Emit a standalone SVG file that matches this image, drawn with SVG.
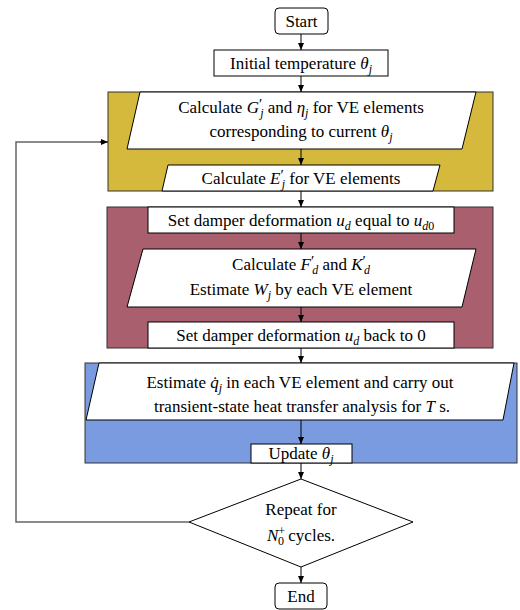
<svg xmlns="http://www.w3.org/2000/svg" width="520" height="610" viewBox="0 0 520 610">
<defs>
<style>
.t{font-family:"Liberation Serif","Times New Roman",serif;font-size:17px;fill:#000;text-anchor:middle}
.i{font-style:italic}
.s{font-size:12px}
.p{font-size:15px}
.box{fill:#fff;stroke:#000;stroke-width:1}
.reg{stroke:#333;stroke-width:1}
.ln{stroke:#000;stroke-width:1;fill:none}
.loop{stroke:#666;stroke-width:1.5;fill:none}
</style>
<marker id="ah" markerUnits="userSpaceOnUse" markerWidth="7" markerHeight="6" refX="7" refY="3" orient="auto">
<path d="M0,0 L7,3 L0,6 z" fill="#000"/>
</marker>
</defs>
<rect width="520" height="610" fill="#fff"/>

<g id="region-gold"><rect class="reg" x="108" y="92" width="385" height="99" fill="#D4B93C"/></g>
<g id="region-red"><rect class="reg" x="107" y="207" width="386" height="141" fill="#AA5F6E"/></g>
<g id="region-blue"><rect class="reg" x="85" y="363" width="432" height="100" fill="#7B9BE0"/></g>

<g id="connectors">
<line class="ln" x1="301" y1="34" x2="301" y2="50" marker-end="url(#ah)"/>
<line class="ln" x1="301" y1="76" x2="301" y2="92" marker-end="url(#ah)"/>
<line class="ln" x1="301" y1="149" x2="301" y2="165" marker-end="url(#ah)"/>
<line class="ln" x1="301" y1="191" x2="301" y2="207" marker-end="url(#ah)"/>
<line class="ln" x1="301" y1="233" x2="301" y2="249" marker-end="url(#ah)"/>
<line class="ln" x1="301" y1="307" x2="301" y2="322" marker-end="url(#ah)"/>
<line class="ln" x1="301" y1="348" x2="301" y2="363" marker-end="url(#ah)"/>
<line class="ln" x1="301" y1="420" x2="301" y2="444" marker-end="url(#ah)"/>
<line class="ln" x1="301" y1="463" x2="301" y2="479" marker-end="url(#ah)"/>
<line class="ln" x1="301" y1="567" x2="301" y2="583" marker-end="url(#ah)"/>
<polyline class="loop" points="189,522 16,522 16,142 101,142"/>
<line class="ln" x1="100" y1="142" x2="108" y2="142" marker-end="url(#ah)"/>
</g>

<g id="start">
<rect class="box" x="275" y="8" width="53" height="26" rx="4"/>
<text class="t" x="301.5" y="27">Start</text>
</g>

<g id="initial">
<rect class="box" x="214" y="50" width="174" height="26"/>
<text class="t" x="301" y="69">Initial temperature <tspan class="i">θ</tspan><tspan class="s i" dy="4">j</tspan></text>
</g>

<g id="calc-g">
<polygon class="box" points="140,92 476,92 462,149 127,149"/>
<text class="t" x="301" y="113">Calculate <tspan class="i">G</tspan><tspan class="p" dy="-4">′</tspan><tspan class="s i" dx="-2" dy="8">j</tspan><tspan dy="-4"> and </tspan><tspan class="i">η</tspan><tspan class="s i" dy="4">j</tspan><tspan dy="-4"> for VE elements</tspan></text>
<text class="t" x="301" y="137">corresponding to current <tspan class="i">θ</tspan><tspan class="s i" dy="4">j</tspan></text>
</g>

<g id="calc-e">
<polygon class="box" points="168,165 440,165 433,191 162,191"/>
<text class="t" x="301" y="184">Calculate <tspan class="i">E</tspan><tspan class="p" dy="-4">′</tspan><tspan class="s i" dx="-2" dy="8">j</tspan><tspan dy="-4"> for VE elements</tspan></text>
</g>

<g id="set-damper">
<rect class="box" x="148" y="207" width="306" height="26"/>
<text class="t" x="301" y="226">Set damper deformation <tspan class="i">u</tspan><tspan class="s i" dy="4">d</tspan><tspan dy="-4"> equal to </tspan><tspan class="i">u</tspan><tspan class="s i" dy="4">d</tspan><tspan class="s">0</tspan></text>
</g>

<g id="calc-f">
<polygon class="box" points="143,249 476,249 462,307 127,307"/>
<text class="t" x="301" y="270">Calculate <tspan class="i">F</tspan><tspan class="p" dy="-4">′</tspan><tspan class="s i" dx="-2" dy="8">d</tspan><tspan dy="-4"> and </tspan><tspan class="i">K</tspan><tspan class="p" dy="-4">′</tspan><tspan class="s i" dx="-2" dy="8">d</tspan></text>
<text class="t" x="301" y="295">Estimate <tspan class="i">W</tspan><tspan class="s i" dy="4">j</tspan><tspan dy="-4"> by each VE element</tspan></text>
</g>

<g id="set-back">
<rect class="box" x="148" y="322" width="306" height="26"/>
<text class="t" x="301" y="341">Set damper deformation <tspan class="i">u</tspan><tspan class="s i" dy="4">d</tspan><tspan dy="-4"> back to 0</tspan></text>
</g>

<g id="estimate-q">
<polygon class="box" points="99,363 514,363 503,420 86,420"/>
<text class="t" x="300" y="388">Estimate <tspan class="i">q̇</tspan><tspan class="s i" dy="4">j</tspan><tspan dy="-4"> in each VE element and carry out</tspan></text>
<text class="t" x="302" y="412">transient-state heat transfer analysis for <tspan class="i">T</tspan> s.</text>
</g>

<g id="update">
<rect class="box" x="251" y="444" width="101" height="19"/>
<text class="t" x="301" y="459">Update <tspan class="i">θ</tspan><tspan class="s i" dy="4">j</tspan></text>
</g>

<g id="repeat">
<polygon class="box" points="301,479 413,522 301,567 189,522"/>
<text class="t" x="301" y="515">Repeat for</text>
<text class="t" x="301" y="541"><tspan class="i">N</tspan><tspan class="s" dy="-6">+</tspan><tspan class="s" dx="-7" dy="10">0</tspan><tspan dy="-4"> cycles.</tspan></text>
</g>

<g id="end">
<rect class="box" x="275" y="583" width="52" height="26" rx="4"/>
<text class="t" x="301" y="602">End</text>
</g>
</svg>
